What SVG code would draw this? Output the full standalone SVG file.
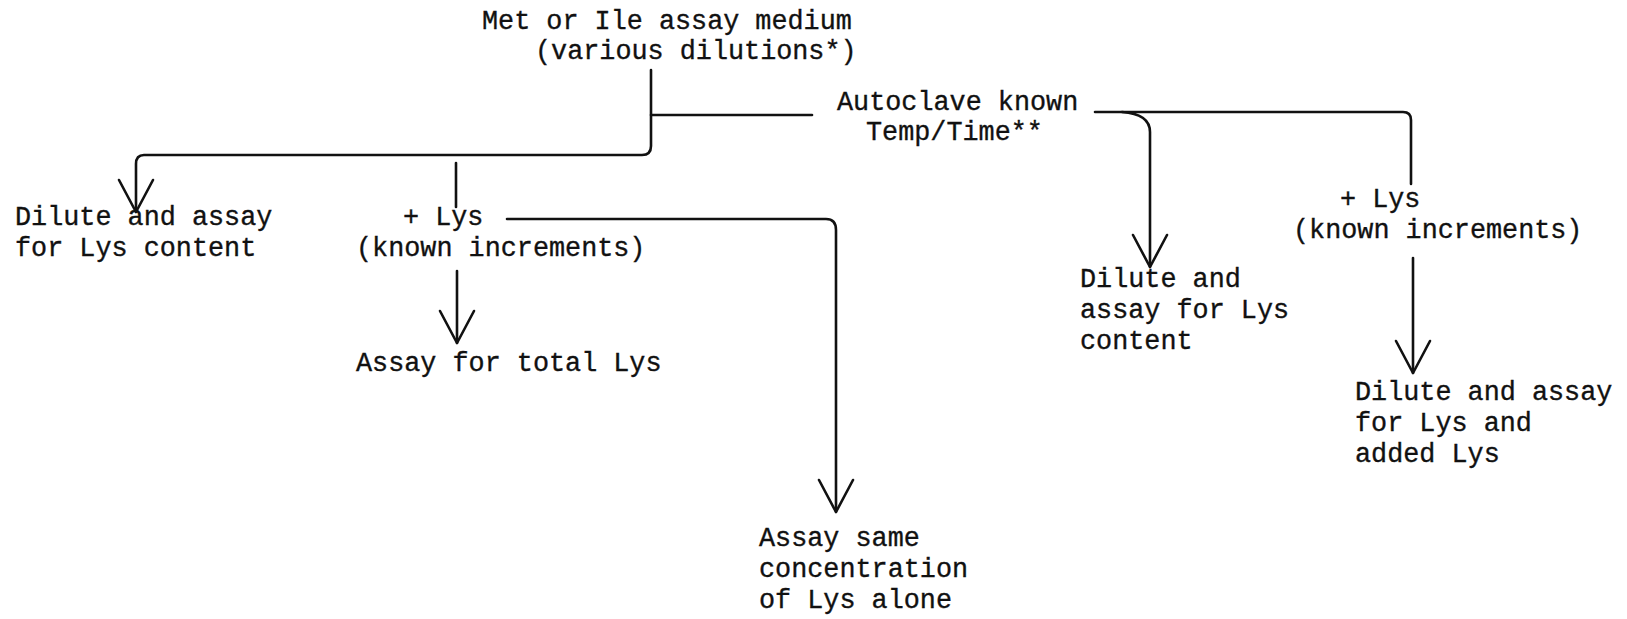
<svg xmlns="http://www.w3.org/2000/svg" width="1627" height="619" viewBox="0 0 1627 619">
<style>
text{font-family:"Liberation Mono","DejaVu Sans Mono",monospace;font-size:26.8px;fill:#111;stroke:#111;stroke-width:0.35}
.c{fill:none;stroke:#111;stroke-width:2.6;stroke-linecap:round;stroke-linejoin:round}
</style>
<defs>
<marker id="v" markerUnits="userSpaceOnUse" viewBox="0 0 36 38" refX="34" refY="19" markerWidth="36" markerHeight="38" orient="auto">
<path d="M2,2 L34,19 L2,36" fill="none" stroke="#111" stroke-width="2.6" stroke-linecap="round" stroke-linejoin="round"/>
</marker>
</defs>
<rect width="1627" height="619" fill="#fff"/>
<g id="connectors">
<path class="c" d="M651,70 V146 Q651,155 642,155 H144 Q136,155 136,164 V212" marker-end="url(#v)"/>
<path class="c" d="M651,115 H812"/>
<path class="c" d="M456,163 V207"/>
<path class="c" d="M507,219 H826 Q836,219 836,230 V512" marker-end="url(#v)"/>
<path class="c" d="M457,271 V343" marker-end="url(#v)"/>
<path class="c" d="M1095,112 H1403 Q1411,112 1411,120 V184"/>
<path class="c" d="M1122,112 Q1150,114 1150,132 V267" marker-end="url(#v)"/>
<path class="c" d="M1413,258 V373" marker-end="url(#v)"/>
</g>
<g id="medium"><text x="482" y="29">Met or Ile assay medium</text><text x="535" y="59">(various dilutions*)</text></g>
<g id="autoclave"><text x="837" y="110">Autoclave known</text><text x="866" y="140">Temp/Time**</text></g>
<g id="dilute-left"><text x="15" y="225">Dilute and assay</text><text x="15" y="256">for Lys content</text></g>
<g id="add-lys-left"><text x="403" y="225">+ Lys</text><text x="356" y="256">(known increments)</text></g>
<g id="total-lys"><text x="356" y="371">Assay for total Lys</text></g>
<g id="lys-alone"><text x="759" y="546">Assay same</text><text x="759" y="577">concentration</text><text x="759" y="608">of Lys alone</text></g>
<g id="dilute-mid"><text x="1080" y="287">Dilute and</text><text x="1080" y="318">assay for Lys</text><text x="1080" y="349">content</text></g>
<g id="add-lys-right"><text x="1340" y="207">+ Lys</text><text x="1293" y="238">(known increments)</text></g>
<g id="dilute-right"><text x="1355" y="400">Dilute and assay</text><text x="1355" y="431">for Lys and</text><text x="1355" y="462">added Lys</text></g>
</svg>
